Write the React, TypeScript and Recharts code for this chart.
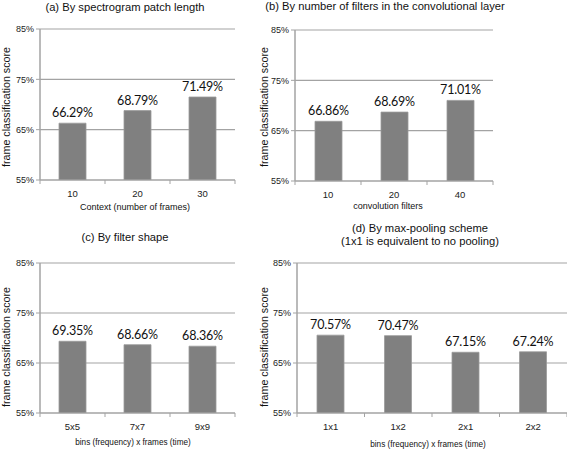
import React from 'react';
import { BarChart, Bar, XAxis, YAxis, CartesianGrid, LabelList } from 'recharts';

const contextCats = ['10', '20', '30'];
const contextScores = [66.29, 68.79, 71.49];

const filterCats = ['10', '20', '40'];
const filterScores = [66.86, 68.69, 71.01];

const shapeCats = ['5x5', '7x7', '9x9'];
const shapeScores = [69.35, 68.66, 68.36];

const poolCats = ['1x1', '1x2', '2x1', '2x2'];
const poolScores = [70.57, 70.47, 67.15, 67.24];

const yTicks = [55, 65, 75, 85];

const SANS = '"Liberation Sans", Arial, sans-serif';
const GRID = '#a3a3a3';
const BAR = '#808080';

type PanelProps = {
  cats: string[];
  vals: number[];
  left: number;
  top: number;
  width: number;
  height: number;
  mTop: number;
  mRight: number;
};

const CatTick = (props: any) => {
  const { x, y, payload, index } = props;
  const off = payload && payload.offset ? payload.offset : 0;
  const ay = y - 10;
  return (
    <g>
      {index === 0 && off ? <line x1={x - off} x2={x - off} y1={ay} y2={ay + 4} stroke={GRID} /> : null}
      {off ? <line x1={x + off} x2={x + off} y1={ay} y2={ay + 4} stroke={GRID} /> : null}
      <text x={x} y={y} dy="0.71em" textAnchor="middle" fontSize={9.5} fontFamily={SANS} fill="#222">
        {payload.value}
      </text>
    </g>
  );
};

function Panel({ cats, vals, left, top, width, height, mTop, mRight }: PanelProps) {
  const data = cats.map((c, i) => ({ cat: c, v: vals[i] }));
  return (
    <div style={{ position: 'absolute', left, top, width, height }}>
      <BarChart
        width={width}
        height={height}
        data={data}
        margin={{ top: mTop, right: mRight, bottom: 0, left: 0 }}
        barSize={27}
      >
        <CartesianGrid vertical={false} stroke={GRID} strokeWidth={1.2} />
        <XAxis
          dataKey="cat"
          height={22}
          axisLine={{ stroke: GRID }}
          tickLine={false}
          tickSize={4}
          tickMargin={6}
          tick={<CatTick />}
          interval={0}
        />
        <YAxis
          width={40}
          domain={[55, 85]}
          ticks={yTicks}
          allowDataOverflow
          axisLine={{ stroke: GRID, strokeWidth: 1.5 }}
          tickLine={{ stroke: GRID }}
          tickSize={4}
          tickMargin={2}
          tickFormatter={(v: number) => `${v}%`}
          tick={{ fontSize: 9, fontFamily: SANS, fill: '#222' }}
        />
        <Bar dataKey="v" fill={BAR} stroke="#9a9a9a" strokeWidth={0.8} isAnimationActive={false}>
          <LabelList
            dataKey="v"
            position="top"
            offset={6}
            formatter={(v: number) => `${v.toFixed(2)}%`}
            style={{ fontSize: 12.5, fontFamily: 'Lato, "Open Sans", sans-serif', fill: '#111', letterSpacing: '-0.2px' }}
          />
        </Bar>
      </BarChart>
    </div>
  );
}

const Txt = ({ x, y, children, size = 9, rotate = false }: any) => (
  <div
    style={{
      position: 'absolute',
      left: x,
      top: y,
      transform: `translate(-50%, -50%)${rotate ? ' rotate(-90deg)' : ''}`,
      whiteSpace: 'nowrap',
      fontFamily: SANS,
      fontSize: size,
      color: '#111',
      lineHeight: 1,
    }}
  >
    {children}
  </div>
);

export default function App() {
  return (
    <div style={{ position: 'absolute', left: 0, top: 0, width: 567, height: 451, background: '#fff', overflow: 'hidden' }}>
      <Panel cats={contextCats} vals={contextScores} left={0} top={0} width={240} height={202} mTop={29} mRight={5} />
      <Panel cats={filterCats} vals={filterScores} left={255} top={0} width={243} height={203} mTop={30} mRight={5} />
      <Panel cats={shapeCats} vals={shapeScores} left={0} top={230} width={240} height={205} mTop={33} mRight={5} />
      <Panel cats={poolCats} vals={poolScores} left={257} top={230} width={310} height={205} mTop={33} mRight={0} />

      <Txt x={125} y={8} size={11.2}>(a) By spectrogram patch length</Txt>
      <Txt x={385} y={7} size={11.2}>(b) By number of filters in the convolutional layer</Txt>
      <Txt x={125} y={238} size={11.2}>(c) By filter shape</Txt>
      <Txt x={420} y={229} size={11.2}>(d) By max-pooling scheme</Txt>
      <Txt x={420} y={242} size={11.2}>(1x1 is equivalent to no pooling)</Txt>

      <Txt x={135} y={207} size={9}>Context (number of frames)</Txt>
      <Txt x={388} y={206} size={9}>convolution filters</Txt>
      <Txt x={133} y={443} size={8.2}>bins (frequency) x frames (time)</Txt>
      <Txt x={428} y={445} size={8.2}>bins (frequency) x frames (time)</Txt>

      <Txt x={6} y={107} size={10.7} rotate>frame classification score</Txt>
      <Txt x={264} y={107} size={10.7} rotate>frame classification score</Txt>
      <Txt x={6} y={347} size={10.7} rotate>frame classification score</Txt>
      <Txt x={264} y={347} size={10.7} rotate>frame classification score</Txt>
    </div>
  );
}
